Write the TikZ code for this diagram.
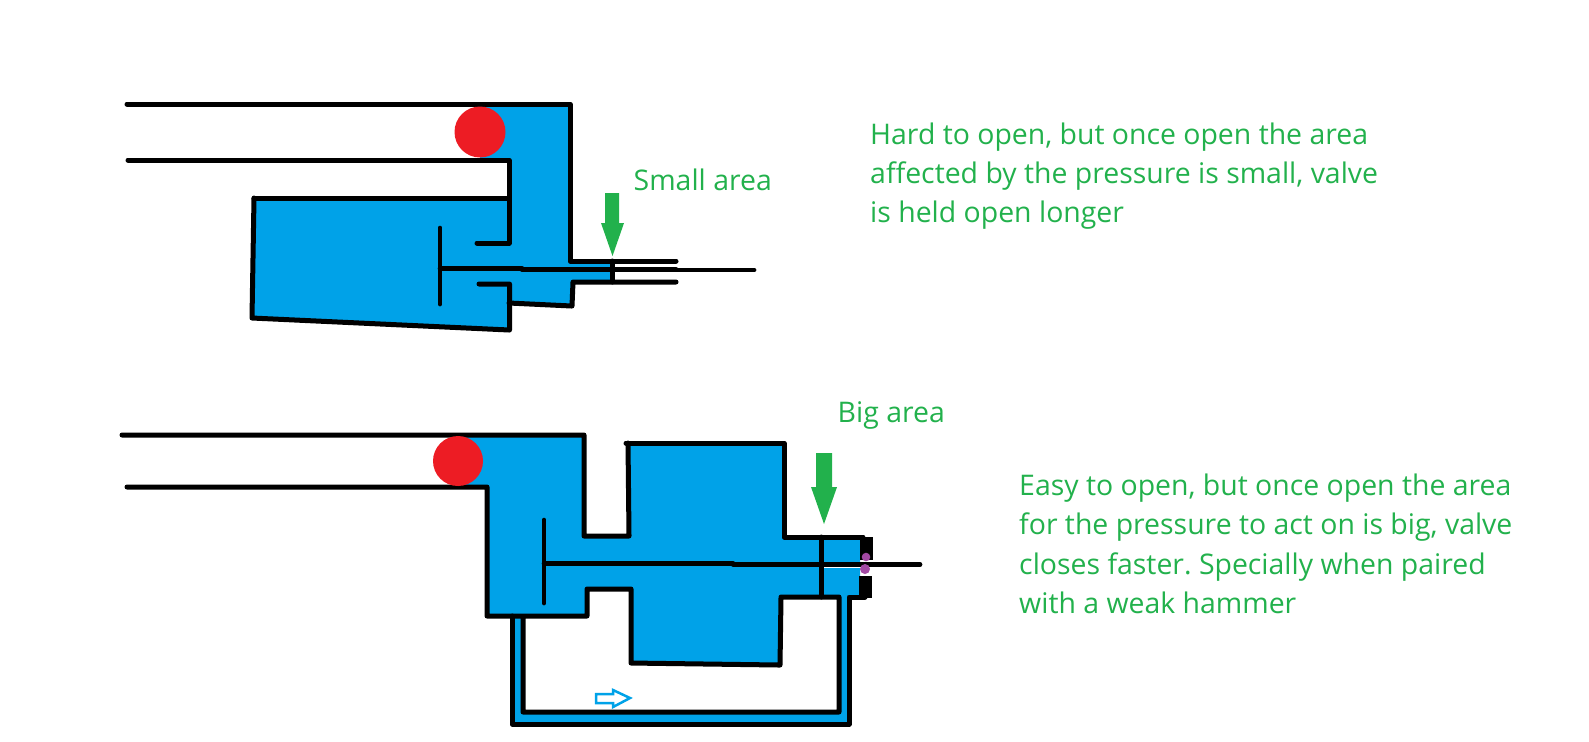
\documentclass[tikz,border=0pt]{standalone}
\usepackage{fontspec}
\setmainfont{Open Sans}
\frenchspacing
\usetikzlibrary{positioning}
\definecolor{waterblue}{RGB}{0,162,232}
\definecolor{ballred}{RGB}{237,28,36}
\definecolor{notegreen}{RGB}{34,177,76}
\definecolor{sealpurple}{RGB}{163,73,164}
\tikzset{
	wall/.style={draw=black, line width=0.05cm, line cap=round, line join=round},
	stem/.style={draw=black, line width=0.047cm, line cap=round},
	water/.style={fill=waterblue},
	ball/.style={fill=ballred},
	pressure/.style={fill=notegreen},
	note/.style={text=notegreen, inner sep=0pt, anchor=west, align=left, font=\fontsize{8.08}{11.2}\selectfont},
}

\begin{document}
\begin{tikzpicture}[x=0.01cm, y=-0.01cm]
		\useasboundingbox (0,0) rectangle (1589,741);

		% small area
		\fill[water] (480,104) -- (570,104) -- (570,261) -- (612,261) -- (612,282) -- (573,282) -- (572,306) -- (509,303) -- (509.5,330) -- (252,318) -- (254,198) -- (509,198) -- (509,160) -- (480,160) -- cycle;
		\draw[wall] (127,104) -- (570,104) -- (570,261) -- (676,261);
		\draw[wall] (128,160) -- (509,160) -- (509,243) -- (477,243);
		\draw[wall] (254,198) -- (509,198);
		\draw[wall] (676,282) -- (573,282) -- (572,306) -- (509,303);
		\draw[wall] (479,284) -- (509.5,284) -- (509.5,330) -- (252,318) -- (254,198);
		\draw[wall] (612,261) -- (612,282);
		\draw[stem] (440,228) -- (440,304);
		\draw[stem] (440,268.3) -- (522,268.3);
		\draw[stem] (522,269.5) -- (676,269.5);
		\draw[stem] (676,270) -- (754,270);
		\fill[ball] (480,132) circle (25.5);
		\fill[pressure] (605,193) -- (619,193) -- (619,223) -- (624,223) -- (612.5,256) -- (601,223) -- (605,223) -- cycle;

		% big area
		\fill[water] (458,435) -- (584,435) -- (584,536) -- (629,536) -- (628,443) -- (784,443) -- (784,537) -- (860,537) -- (860,597) -- (781,597) -- (780,665) -- (631,663) -- (631,589) -- (587,589) -- (587,616) -- (487,616) -- (487,487) -- (458,487) -- cycle;
		\fill[water] (512,616) -- (512,724) -- (849,724) -- (849,597) -- (839,597) -- (839,712) -- (523,712) -- (523,616) -- cycle;
		\fill[white] (824,567.2) rectangle (860,568.2);
		\draw[wall] (122,435) -- (584,435) -- (584,536) -- (629,536) -- (628,443);
		\draw[wall] (626,443) -- (784,443) -- (784,537) -- (863,537);
		\draw[wall] (127,487) -- (487,487) -- (487,616) -- (587,616) -- (587,589) -- (631,589) -- (631,663) -- (780,665) -- (781,597) -- (839,597) -- (839,712) -- (523,712) -- (523,616);
		\draw[wall] (512,616) -- (512,724) -- (849,724) -- (849,597) -- (865,597);
		\draw[wall] (821,537) -- (821,597);
		\fill[black] (860,537) rectangle (873,560);
		\fill[black] (859,576) rectangle (872,598);
		\draw[stem] (544,520) -- (544,603);
		\draw[stem] (544,563.3) -- (733,563.3);
		\draw[stem] (733,564.3) -- (920,564.3);
		\fill[sealpurple] (866,557) circle (4.3);
		\fill[sealpurple] (865,569) circle (5);
		\fill[ball] (458,461) circle (25);
		\fill[pressure] (816,453) -- (832,453) -- (832,487) -- (837,487) -- (824,524) -- (811,487) -- (816,487) -- cycle;
		\draw[draw=waterblue, line width=0.025cm] (596,694) -- (613,694) -- (613,690) -- (630,698) -- (613,707) -- (613,703) -- (596,703) -- cycle;

		\node[note] (smalllabel) at (633,180) {Small area};
		\node[note] (biglabel) at (837,415) {Big area};
		\node[note] (hardnote) at (869.5,176) {Hard to open, but once open the area\\affected by the pressure is small, valve\\is held open longer};
		\node[note] (easynote) at (1018.5,544) {Easy to open, but once open the area\\for the pressure to act on is big, valve\\closes faster. Specially when paired\\with a weak hammer};
	\end{tikzpicture}
\end{document}
